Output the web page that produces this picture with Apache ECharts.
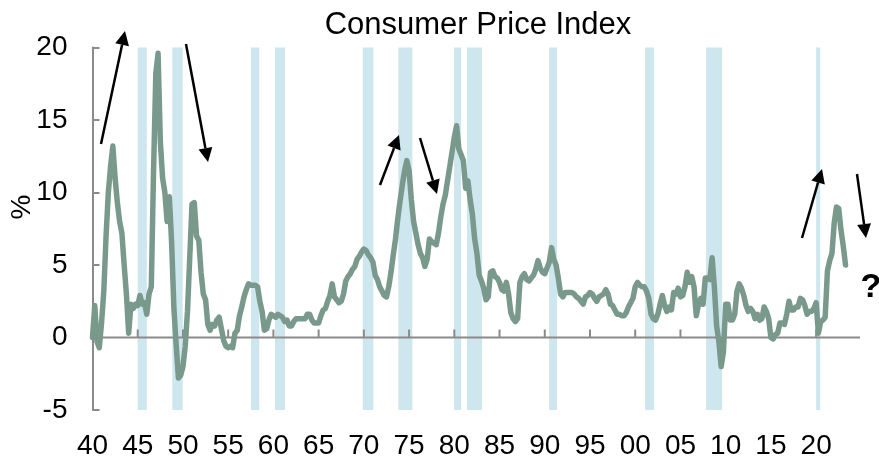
<!DOCTYPE html>
<html>
<head>
<meta charset="utf-8">
<title>Consumer Price Index</title>
<script src="https://cdn.jsdelivr.net/npm/echarts@6/dist/echarts.min.js"></script>
<style>
  html, body { margin: 0; padding: 0; background: #fff; }
  #chart { width: 879px; height: 458px; }
</style>
</head>
<body>
<div id="chart"></div>
<script>
// CPI, % y/y at quarterly steps, first value = 1940 Q1
const startYear = 1940;
const cpi1940s = [
  0.0, 2.2, -0.3, -0.7,
  1.0, 3.2, 7.0, 10.0,
  11.8, 13.2, 11.0, 9.3,
  8.0, 7.2, 5.0, 3.0,
  0.3, 2.3, 2.0, 2.3,
  2.2, 2.9, 2.3, 2.4,
  1.6, 3.0, 3.5, 11.5,
  18.2, 19.6, 13.5, 11.0,
  10.0, 8.0, 9.7, 6.5,
  2.0, -0.5, -2.8, -2.6
];
const cpi1950s = [
  -2.0, -0.6, 1.8, 5.5,
  9.2, 9.3, 7.0, 6.7,
  4.5, 3.0, 2.6, 0.9,
  0.5, 0.9, 0.8, 1.2,
  1.4, 0.6, -0.2, -0.6,
  -0.7, -0.6, -0.7, 0.3,
  0.5, 1.5, 2.1, 2.8,
  3.3, 3.7, 3.6, 3.6,
  3.6, 3.5, 2.5, 1.8,
  0.5, 0.6, 1.2, 1.6
];
const cpi1960s = [
  1.5, 1.4, 1.6, 1.5,
  1.4, 1.1, 1.2, 0.8,
  0.8, 1.1, 1.3, 1.3,
  1.3, 1.3, 1.3, 1.6,
  1.6, 1.2, 1.0, 1.0,
  1.0, 1.5, 1.9, 2.0,
  2.5, 2.9, 3.7, 2.8,
  2.6, 2.4, 2.5, 3.0,
  3.9, 4.2, 4.4, 4.7,
  4.9, 5.4, 5.6, 5.9
];
const cpi1970s = [
  6.1, 6.0, 5.7, 5.5,
  5.2, 4.3, 4.0, 3.5,
  3.2, 2.9, 2.8, 3.5,
  4.5, 5.7, 6.8, 8.2,
  9.4, 10.5, 11.5, 12.2,
  11.5, 9.5, 8.0, 7.2,
  6.4, 5.8, 5.5, 4.9,
  5.4, 6.8, 6.6, 6.5,
  6.4, 7.2, 8.3, 9.2,
  9.8, 10.8, 11.8, 12.8
];
const cpi1980s = [
  13.8, 14.6, 13.0, 12.6,
  12.2, 10.3, 10.8, 9.5,
  8.5, 6.8, 5.8, 4.3,
  3.9, 3.4, 2.6, 2.8,
  4.5, 4.6, 4.2, 4.1,
  3.8, 3.3, 3.2, 3.8,
  3.0, 1.7, 1.3, 1.1,
  1.3, 3.8, 4.2, 4.4,
  4.0, 3.9, 4.1, 4.3,
  4.7, 5.3, 4.8, 4.5
];
const cpi1990s = [
  4.4, 4.8, 5.2, 6.2,
  5.4, 5.0, 4.1, 3.0,
  2.8, 3.1, 3.1, 3.1,
  3.1, 3.0, 2.8, 2.7,
  2.5, 2.3, 2.8, 2.9,
  3.1, 3.0, 2.7, 2.5,
  2.8, 2.9, 3.0, 3.3,
  3.0, 2.3, 2.2, 1.9,
  1.6, 1.6, 1.5, 1.5,
  1.7, 2.1, 2.4, 2.7
];
const cpi2000s = [
  3.5, 3.8, 3.6, 3.5,
  3.5, 3.2, 2.7, 1.6,
  1.3, 1.2, 1.6, 2.3,
  2.9, 2.2, 1.8, 2.1,
  1.9, 3.1, 3.0, 3.4,
  2.8, 2.9, 3.5, 4.5,
  3.8, 4.2, 3.5, 1.5,
  2.3, 2.7, 2.3, 4.1,
  4.1, 4.0, 5.5, 3.5,
  0.8, -0.3, -2.0, -1.0
];
const cpi2010s = [
  2.3, 2.3, 1.2, 1.2,
  1.6, 3.2, 3.7, 3.4,
  2.9, 2.2, 1.8, 2.0,
  1.8, 1.3, 1.6, 1.2,
  1.3, 2.1, 1.8, 1.3,
  0.0, -0.1, 0.2, 0.3,
  1.0, 1.0, 0.9, 1.6,
  2.5, 1.9, 1.9, 2.1,
  2.1, 2.7, 2.6, 2.2,
  1.6, 1.8, 1.8, 2.0
];
const cpi2020s = [
  2.4, 0.3, 1.1, 1.2,
  1.4, 4.6, 5.3, 5.8,
  7.9, 9.0, 8.9, 7.4,
  6.3, 5.0
];

// recession shading, start and end as fractional years
const recessions = [
  [1945.0, 1946.0], [1948.82, 1949.97], [1957.53, 1958.44], [1960.18, 1961.28],
  [1969.88, 1971.05], [1973.81, 1975.36], [1979.97, 1980.75], [1981.41, 1983.07],
  [1990.48, 1991.36], [2001.09, 2002.08], [2007.84, 2009.61], [2020.0, 2020.45]
];

const xLabelYears = [1940, 1945, 1950, 1955, 1960, 1965, 1970, 1975, 1980, 1985, 1990,
  1995, 2000, 2005, 2010, 2015, 2020];
const xTickYears = xLabelYears.slice(1);

// annotation arrows in pixels: [fromX, fromY, tipX, tipY]
const arrows = [
  [101, 144, 125, 31],
  [186, 44, 208, 162],
  [380, 185, 399, 135],
  [420, 138, 437, 194],
  [802, 238, 822, 169],
  [857, 174, 866, 238]
];

const cpi = [].concat(cpi1940s, cpi1950s, cpi1960s, cpi1970s, cpi1980s, cpi1990s, cpi2000s, cpi2010s, cpi2020s);
const cpiPoints = cpi.map((v, i) => [startYear + i / 4, v]);

const font = 'Liberation Sans, Arial, Helvetica, sans-serif';
const axisGrey = '#8a8a8a';
const xMin = 1940, xMax = 2024.85;
const yMin = -5, yMax = 20;
const gridTop = 47.5, gridBottom = 48;
// tick height on the zero line: 8px expressed in axis units
const tickUnits = 8 / ((458 - gridTop - gridBottom) / (yMax - yMin));

// zero line drawn as a series (plus short tick segments, broken apart with '-')
const zeroLine = [[xMin, 0], [xMax, 0]];
const zeroTicks = [];
xTickYears.forEach(yr => {
  zeroTicks.push([yr, 0], [yr, tickUnits], [yr, '-']);
});

function arrowGraphics(a) {
  const [x1, y1, x2, y2] = a;
  const len = Math.hypot(x2 - x1, y2 - y1);
  const dx = (x2 - x1) / len, dy = (y2 - y1) / len;
  const head = 14, half = 7;
  const bx = x2 - dx * head, by = y2 - dy * head;
  return [
    { type: 'line', shape: { x1: x1, y1: y1, x2: bx, y2: by }, style: { stroke: '#000', lineWidth: 2.5 }, z: 10 },
    {
      type: 'polygon',
      shape: { points: [[x2, y2], [bx - dy * half, by + dx * half], [bx + dy * half, by - dx * half]] },
      style: { fill: '#000' },
      z: 10
    }
  ];
}

const chart = echarts.init(document.getElementById('chart'));

const option = {
  animation: false,
  backgroundColor: '#fff',
  grid: { left: 92.5, right: 19, top: gridTop, bottom: gridBottom, outerBoundsMode: 'none' },
  xAxis: {
    type: 'value',
    min: xMin,
    max: xMax,
    axisLine: { show: false, onZero: false },
    axisTick: { show: false },
    splitLine: { show: false },
    axisLabel: {
      customValues: xLabelYears,
      formatter: v => String(Math.round(v) % 100).padStart(2, '0'),
      fontSize: 28,
      fontFamily: font,
      color: '#000',
      margin: 22
    }
  },
  yAxis: {
    type: 'value',
    min: yMin,
    max: yMax,
    interval: 5,
    axisLine: { show: true, onZero: false, lineStyle: { color: axisGrey, width: 2 } },
    axisTick: { show: true, inside: true, length: 7, lineStyle: { color: axisGrey, width: 2 } },
    axisLabel: { fontSize: 28, fontFamily: font, color: '#000', margin: 25 },
    splitLine: { show: false }
  },
  series: [
    {
      name: 'Recession',
      type: 'line',
      data: [],
      z: 1,
      markArea: {
        silent: true,
        itemStyle: { color: '#cee6ed' },
        data: recessions.map(r => [{ xAxis: r[0] }, { xAxis: r[1] }])
      }
    },
    {
      name: 'Zero line',
      type: 'line',
      data: zeroLine,
      showSymbol: false,
      silent: true,
      z: 3,
      lineStyle: { color: axisGrey, width: 2 }
    },
    {
      name: 'Zero ticks',
      type: 'line',
      data: zeroTicks,
      showSymbol: false,
      connectNulls: false,
      silent: true,
      z: 3,
      lineStyle: { color: axisGrey, width: 2 }
    },
    {
      name: 'CPI',
      type: 'line',
      data: cpiPoints,
      showSymbol: false,
      z: 5,
      lineStyle: { color: '#7a998d', width: 5.5, cap: 'round', join: 'round' }
    }
  ],
  graphic: [
    {
      type: 'text',
      x: 478, y: 25,
      style: { text: 'Consumer Price Index', font: '31px ' + font, fill: '#000', align: 'center', verticalAlign: 'middle' }
    },
    {
      type: 'text',
      x: 22, y: 207,
      rotation: Math.PI / 2,
      style: { text: '%', font: '28px ' + font, fill: '#000', align: 'center', verticalAlign: 'middle' }
    },
    {
      type: 'text',
      x: 871, y: 288,
      style: { text: '?', font: 'bold 34px ' + font, fill: '#000', align: 'center', verticalAlign: 'middle' }
    }
  ].concat(...arrows.map(arrowGraphics))
};

chart.setOption(option);
</script>
</body>
</html>
